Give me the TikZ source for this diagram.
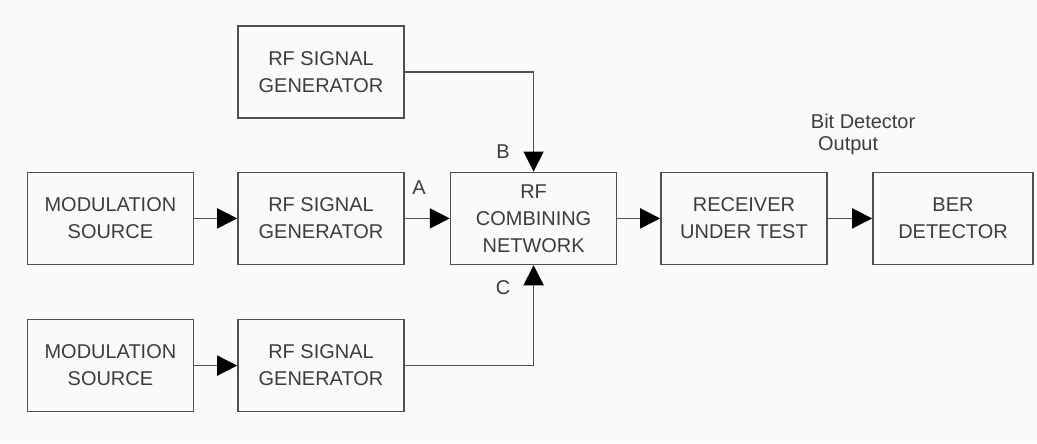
\documentclass[tikz,border=0pt]{standalone}
\usepackage{fontspec}
\setmainfont{Liberation Sans}
\usetikzlibrary{positioning, arrows.meta, calc}
\definecolor{boxline}{RGB}{80, 80, 80}
\definecolor{boxtext}{RGB}{60, 60, 60}
\definecolor{paper}{RGB}{250, 250, 250}

\begin{document}
\begin{tikzpicture}[
        block/.style={draw=boxline, line width=1.2pt, minimum width=4.15cm,
            minimum height=2.3cm, inner sep=0pt, align=center, text=boxtext,
            font=\fontsize{14.2}{19.2}\selectfont},
        link/.style={draw=boxline, line width=1.2pt,
            -{Triangle[length=0.5cm, width=0.5cm, color=black]}},
        tag/.style={text=boxtext, font=\fontsize{14.2}{15.6}\selectfont}
    ]

        \fill[paper] (0,0) rectangle (25.925,-11.075);
        \useasboundingbox (0,0) rectangle (25.925,-11.075);

        % Top row
        \node[block] (gentop) at (8.025,-1.8) {RF SIGNAL\\GENERATOR};

        % Middle row
        \node[block] (modA) at (2.76,-5.46) {MODULATION\\SOURCE};
        \node[block] (genA) at (8.025,-5.46) {RF SIGNAL\\GENERATOR};
        \node[block] (comb) at (13.34,-5.46) {RF\\COMBINING\\NETWORK};
        \node[block] (rx) at (18.6,-5.46) {RECEIVER\\UNDER TEST};
        \node[block, minimum width=4.0cm] (ber) at (23.825,-5.46) {BER\\DETECTOR};

        % Bottom row
        \node[block] (modC) at (2.76,-9.14) {MODULATION\\SOURCE};
        \node[block] (genC) at (8.025,-9.14) {RF SIGNAL\\GENERATOR};

        % Port labels
        \node[tag] (tagA) at (10.475,-4.7) {A};
        \node[tag] (tagB) at (12.575,-3.8) {B};
        \node[tag] (tagC) at (12.575,-7.2) {C};
        \node[tag, anchor=west, align=left] (bitout) at (20.15,-3.36)
            {Bit Detector\\\hspace*{0.18cm}Output};

        % Signal paths
        \draw[link] (modA) -- (genA);
        \draw[link] (genA) -- (comb);
        \draw[link] (comb) -- (rx);
        \draw[link] (rx) -- (ber);
        \draw[link] (gentop.east) -| (comb.north);
        \draw[link] (modC) -- (genC);
        \draw[link] (genC.east) -| (comb.south);

    \end{tikzpicture}
\end{document}
